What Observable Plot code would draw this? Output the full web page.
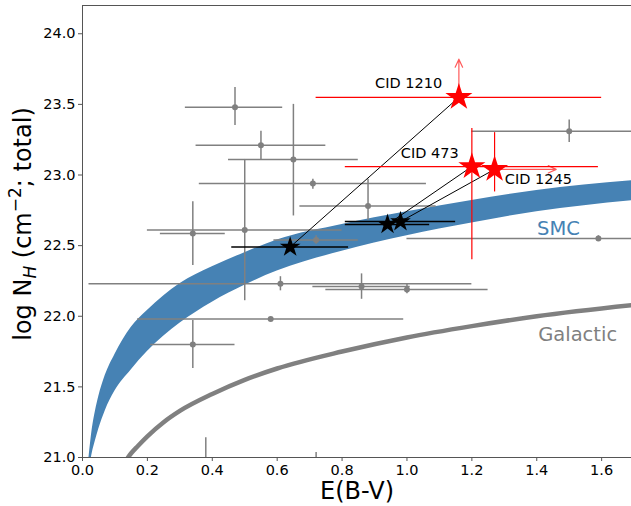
<!DOCTYPE html>
<html><head><meta charset="utf-8">
<script src="https://cdn.jsdelivr.net/npm/d3@7"></script>
<script src="https://cdn.jsdelivr.net/npm/@observablehq/plot@0.6"></script>
<style>html,body{margin:0;padding:0;background:#fff;overflow:hidden}</style>
</head><body><div id="chart"></div>
<script>
// Gray comparison sources (value, lower/upper error limits)
const grayX   = [0.47, 0.55, 0.65, 0.71, 0.50, 0.34, 0.72, 0.61, 0.86, 1.00, 0.58, 0.34, 1.50, 1.59, 0.88, 0.38, 0.72];
const grayY   = [23.48, 23.21, 23.11, 22.94, 22.61, 22.585, 22.54, 22.23, 22.21, 22.19, 21.98, 21.80, 23.31, 22.55, 22.78, 20.90, 20.85];
const grayXlo = [0.317, 0.35, 0.45, 0.36, 0.20, 0.24, 0.59, 0.02, 0.71, 0.75, 0.17, 0.21, 1.20, 1.00, 0.67, 0.28, 0.62];
const grayXhi = [0.617, 0.75, 0.85, 1.06, 0.80, 0.44, 0.85, 1.20, 1.01, 1.25, 0.99, 0.47, 1.80, 2.18, 1.09, 0.48, 0.82];
const grayYlo = [23.35, 23.11, 22.71, 22.90, 22.11, 22.36, 22.51, 22.18, 22.12, 22.16, 21.98, 21.63, 23.23, 22.53, 22.68, 20.66, 20.67];
const grayYhi = [23.62, 23.31, 23.50, 22.97, 23.11, 22.81, 22.57, 22.28, 22.30, 22.23, 21.98, 21.97, 23.39, 22.57, 22.97, 21.14, 21.035];

// SMC band edges
const smcX  = [0.02, 0.03, 0.04, 0.05, 0.07, 0.10, 0.15, 0.20, 0.30, 0.40, 0.50, 0.60, 0.80, 1.00, 1.20, 1.40, 1.70];
const smcHi = [21.00, 21.20, 21.33, 21.43, 21.58, 21.73, 21.92, 22.04, 22.23, 22.35, 22.45, 22.54, 22.65, 22.74, 22.82, 22.89, 22.96];
const smcLo = [20.90, 21.03, 21.12, 21.20, 21.33, 21.47, 21.62, 21.75, 21.95, 22.10, 22.22, 22.32, 22.46, 22.57, 22.66, 22.74, 22.82];

// Galactic relation
const galX = [0.14, 0.15, 0.17, 0.20, 0.25, 0.30, 0.40, 0.50, 0.60, 0.80, 1.00, 1.20, 1.40, 1.70];
const galY = [21.00, 21.03, 21.08, 21.15, 21.25, 21.33, 21.45, 21.55, 21.63, 21.75, 21.85, 21.93, 22.00, 22.08];

// CID sources: red (observed) and black (counterpart) stars
const cidNames = ["CID 1210", "CID 473", "CID 1245"];
const redX   = [1.16, 1.20, 1.27];
const redY   = [23.55, 23.06, 23.04];
const redXlo = [0.72, 0.81, null];
const redXhi = [1.60, 1.59, null];
const redYlo = [null, 22.40, 22.88];
const redYhi = [null, 23.33, 23.30];
const blackX   = [0.64, 0.94, 0.98];
const blackY   = [22.49, 22.65, 22.67];
const blackXlo = [0.46, 0.81, 0.81];
const blackXhi = [0.82, 1.07, 1.15];
// limits (arrows): upward for CID 1210, rightward for CID 1245
const limX2 = [1.16, null, 1.46];
const limY2 = [23.82, null, null];

// label anchors
const cidLabelX = [1.005, 1.07, 1.405];
const cidLabelY = [23.65, 23.15, 22.97];
const relNames = ["SMC", "Galactic"];
const relLabelX = [1.467, 1.526];
const relLabelY = [22.62, 21.87];

const xTicks = [0, 0.2, 0.4, 0.6, 0.8, 1.0, 1.2, 1.4, 1.6];
const yTicks = [21.0, 21.5, 22.0, 22.5, 23.0, 23.5, 24.0];

const gray = grayX.map((x, i) => ({x, y: grayY[i], xlo: grayXlo[i], xhi: grayXhi[i], ylo: grayYlo[i], yhi: grayYhi[i]}));
const smc = smcX.map((x, i) => ({x, lo: smcLo[i], hi: smcHi[i]}));
const gal = galX.map((x, i) => ({x, y: galY[i]}));
const cid = cidNames.map((name, i) => ({
  name, x: redX[i], y: redY[i], xlo: redXlo[i], xhi: redXhi[i], ylo: redYlo[i], yhi: redYhi[i],
  bx: blackX[i], by: blackY[i], bxlo: blackXlo[i], bxhi: blackXhi[i],
  ax2: limX2[i] ?? redX[i], ay2: limY2[i] ?? redY[i], hasLim: limX2[i] != null || limY2[i] != null,
  lx: cidLabelX[i], ly: cidLabelY[i]
}));
const rel = relNames.map((name, i) => ({name, x: relLabelX[i], y: relLabelY[i]}));

const yLabel = "log NH (cm-2; total)";

const chart = Plot.plot({
  width: 631, height: 506,
  marginLeft: 82, marginRight: 0, marginTop: 5, marginBottom: 49,
  x: {domain: [0, 1.692]},
  y: {domain: [21, 24.2]},
  style: {fontFamily: "DejaVu Sans, sans-serif", background: "white", color: "black"},
  marks: [
    Plot.areaY(smc, {x: "x", y1: "lo", y2: "hi", fill: "#4682b4", curve: "monotone-x", clip: true}),
    Plot.line(gal, {x: "x", y: "y", stroke: "#808080", strokeWidth: 4.5, curve: "monotone-x", clip: true}),
    Plot.ruleY(gray, {y: "y", x1: "xlo", x2: "xhi", stroke: "#808080", strokeWidth: 1.5, clip: true}),
    Plot.ruleX(gray, {x: "x", y1: "ylo", y2: "yhi", stroke: "#808080", strokeWidth: 1.5, clip: true}),
    Plot.dot(gray, {x: "x", y: "y", r: 3, fill: "#808080", clip: true}),
    Plot.link(cid, {x1: "x", y1: "y", x2: "bx", y2: "by", stroke: "black", strokeWidth: 1}),
    Plot.ruleY(cid, {y: "by", x1: "bxlo", x2: "bxhi", stroke: "black", strokeWidth: 1.5}),
    Plot.dot(cid, {x: "bx", y: "by", symbol: "star", r: 6.5, fill: "black"}),
    Plot.ruleY(cid.filter(d => d.xlo != null), {y: "y", x1: "xlo", x2: "xhi", stroke: "red", strokeWidth: 1.2}),
    Plot.ruleX(cid.filter(d => d.ylo != null), {x: "x", y1: "ylo", y2: "yhi", stroke: "red", strokeWidth: 1.2}),
    Plot.arrow(cid.filter(d => d.hasLim), {x1: "x", y1: "y", x2: "ax2", y2: "ay2", stroke: "red", strokeOpacity: 0.65, strokeWidth: 1.2, headLength: 11, headAngle: 50}),
    Plot.dot(cid, {x: "x", y: "y", symbol: "star", r: 8.5, fill: "red"}),
    Plot.text(cid, {x: "lx", y: "ly", text: "name", fontSize: 14.5, fill: "black"}),
    Plot.text(rel, {x: "x", y: "y", text: "name", fontSize: 19.5, fill: d => d.name === "SMC" ? "#4682b4" : "#808080"}),
    Plot.ruleX([0], {stroke: "#555", strokeWidth: 1}),
    Plot.ruleY([21], {stroke: "#555", strokeWidth: 1}),
    Plot.ruleY([24.2], {stroke: "#555", strokeWidth: 1}),
    Plot.axisX({ticks: xTicks, tickFormat: d => d.toFixed(1), tickSize: 4, tickPadding: 3, fontSize: 14.5, label: null, stroke: "#555"}),
    Plot.axisY({ticks: yTicks, tickFormat: d => d.toFixed(1), tickSize: 4, tickPadding: 3, fontSize: 14.5, label: null, stroke: "#555"}),
    Plot.text(["E(B-V)"], {frameAnchor: "bottom", lineAnchor: "middle", textAnchor: "middle", dy: 34, fontSize: 24, fill: "black"}),
    Plot.text([yLabel], {frameAnchor: "left", textAnchor: "middle", lineAnchor: "middle", rotate: -90, dx: -59, dy: -7.5, fontSize: 24, fill: "black"})
  ]
});
document.getElementById("chart").appendChild(chart);

// rich text for the y label (subscript H, superscript −2)
for (const t of chart.querySelectorAll("text")) {
  if (t.textContent === yLabel) {
    t.textContent = "";
    const parts = [["log N", null], ["H", "sub"], [" (cm", null], ["\u22122", "super"], ["; total)", null]];
    for (const [s, kind] of parts) {
      const ts = document.createElementNS("http://www.w3.org/2000/svg", "tspan");
      ts.textContent = s;
      if (kind === "sub") { ts.setAttribute("baseline-shift", "-5"); ts.setAttribute("font-size", "17"); ts.setAttribute("font-style", "italic"); }
      if (kind === "super") { ts.setAttribute("baseline-shift", "10"); ts.setAttribute("font-size", "17"); }
      t.appendChild(ts);
    }
  }
}
</script>
</body></html>
